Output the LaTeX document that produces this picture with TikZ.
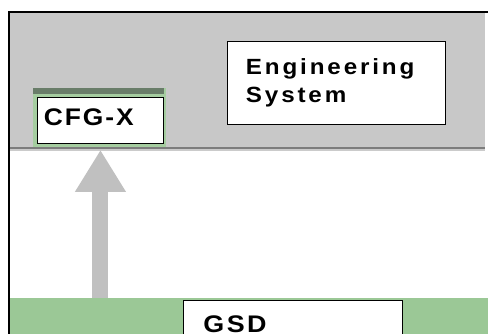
\documentclass[tikz,border=0pt]{standalone}
\usepackage{fontspec}
\usetikzlibrary{positioning,calc}
\usetikzlibrary{arrows.meta}
\newfontfamily\engfont[FakeStretch=1.1,LetterSpace=13]{Liberation Sans Bold}
\newfontfamily\cfgfont[FakeStretch=1.1,LetterSpace=8]{Liberation Sans Bold}
\newfontfamily\gsdfont[FakeStretch=1.12,LetterSpace=10]{Liberation Sans Bold}
\definecolor{PanelGray}{RGB}{200,200,200}
\definecolor{BandGreen}{RGB}{155,200,150}
\definecolor{CfgGreen}{RGB}{165,205,160}
\definecolor{CfgDark}{RGB}{105,125,105}
\definecolor{ArrowGray}{RGB}{192,192,192}
\definecolor{ShadowGray}{RGB}{125,125,125}
\tikzset{
  layer/.style={draw=none,inner sep=0pt,anchor=north west},
  textbox/.style={draw=black,line width=0.9pt,fill=white,anchor=north west,align=left},
  frame/.style={draw=black,line width=1.5pt},
  flow/.style={draw=ArrowGray,line width=16pt,-{Triangle[length=42pt,width=48pt]}},
}

\begin{document}
\begin{tikzpicture}[x=1pt,y=-1pt]
\useasboundingbox (0,0) rectangle (488,334);
\clip (0,0) rectangle (488,334);
% layers
\node[layer,fill=PanelGray,minimum width=475pt,minimum height=135pt] (engsys) at (10,13) {};
\draw[ShadowGray,line width=2pt] (engsys.south west) -- (engsys.south east);
\draw[ShadowGray!40,line width=2pt] ([yshift=-2pt]engsys.south west) -- ([yshift=-2pt]engsys.south east);
\node[layer,fill=BandGreen,minimum width=478pt,minimum height=40pt] (gsdlayer) at (10,298) {};
% CFG-X
\node[layer,fill=CfgGreen,minimum width=133pt,minimum height=59pt] (cfgframe) at (33,88) {};
\node[layer,fill=CfgDark,minimum width=131pt,minimum height=6pt] (cfgtop) at (33,88) {};
\node[textbox,inner xsep=6.5pt,inner ysep=4pt,text width=113pt,text height=24pt,text depth=14pt,
  font=\cfgfont\fontsize{24}{28}\selectfont] (cfgx) at (37,97) {CFG-X};
% engineering system
\node[textbox,inner xsep=18.5pt,text width=181pt,minimum height=83pt,
  font=\engfont\fontsize{22}{28}\selectfont] (eng) at (227,41) {Engineering\\System};
% GSD
\node[textbox,inner xsep=20pt,inner ysep=0pt,text width=179pt,text height=32pt,text depth=12pt,
  font=\gsdfont\fontsize{24}{28}\selectfont] (gsd) at (183,300) {GSD};
% arrow
\draw[flow] (gsdlayer.north -| cfgx.south) -- ([yshift=-6pt]cfgx.south);
% frame
\draw[frame] (8,12) -- (488,12);
\draw[frame] (9,12) -- (9,334);
\end{tikzpicture}
\end{document}
